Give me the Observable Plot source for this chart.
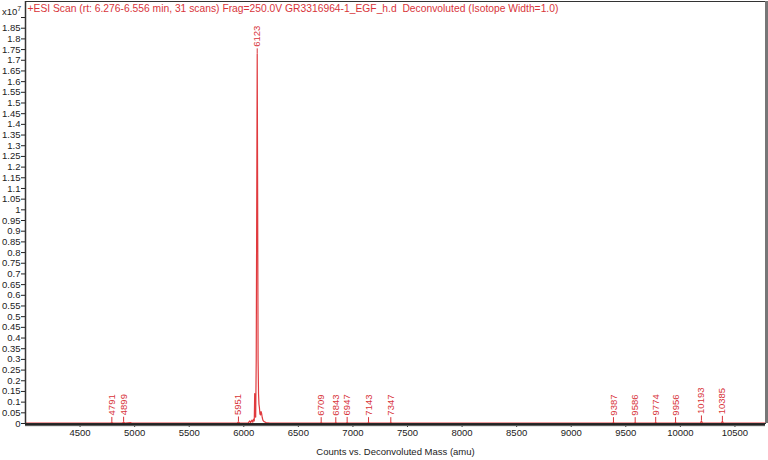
<!DOCTYPE html>
<html><head><meta charset="utf-8">
<script src="https://cdn.jsdelivr.net/npm/d3@7"></script>
<script src="https://cdn.jsdelivr.net/npm/@observablehq/plot@0.6"></script>
<style>html,body{margin:0;padding:0;background:#fff;} #chart svg{display:block;overflow:visible}</style>
</head><body><div id="chart"></div>
<script>
// Deconvoluted spectrum (mass in amu, counts in units of 1e7)
const spectrumMass = [4000,4300,4600,4780,4791,4802,4888,4899,4910,4960,4975,5300,5700,5940,5951,5962,
  6040,6055,6062,6075,6082,6090,6096,6100,6104,6109,6114,6119,6123,6127,6131,6135,6139,6143,6148,6153,6158,6163,6169,6176,6188,6205,6240,
  6700,6709,6718,6834,6843,6852,6938,6947,6956,7134,7143,7152,7338,7347,7356,8000,9000,
  9378,9387,9396,9577,9586,9595,9765,9774,9783,9947,9956,9965,10184,10193,10202,10376,10385,10394,10780];
const spectrumCounts = [0.002,0.002,0.002,0.002,0.005,0.002,0.002,0.006,0.002,0.004,0.002,0.002,0.002,0.002,0.007,0.002,
  0.003,0.012,0.004,0.016,0.006,0.02,0.012,0.14,0.05,0.03,0.3,1.1,1.73,1.05,0.3,0.14,0.09,0.075,0.045,0.04,0.056,0.048,0.028,0.015,0.008,0.004,0.002,
  0.002,0.004,0.002,0.002,0.004,0.002,0.002,0.005,0.002,0.002,0.004,0.002,0.002,0.004,0.002,0.002,0.002,
  0.002,0.004,0.002,0.002,0.004,0.002,0.002,0.005,0.002,0.002,0.004,0.002,0.002,0.012,0.002,0.002,0.01,0.002,0.002];

// Labelled peaks
const peakMasses = [4791,4899,5951,6123,6709,6843,6947,7143,7347,9387,9586,9774,9956,10193,10385];
const peakCounts = [0.005,0.006,0.007,1.73,0.004,0.004,0.005,0.004,0.004,0.004,0.004,0.005,0.004,0.012,0.01];
const peakLabels = ["4791","4899","5951","6123","6709","6843","6947","7143","7347","9387","9586","9774","9956","10193","10385"];

// Axes
const xDomain = [4000, 10780];
const yDomain = [0, 1.975];
const xTicks = [4500,5000,5500,6000,6500,7000,7500,8000,8500,9000,9500,10000,10500];
const yTicks = [0,0.05,0.1,0.15,0.2,0.25,0.3,0.35,0.4,0.45,0.5,0.55,0.6,0.65,0.7,0.75,0.8,0.85,0.9,0.95,1,
  1.05,1.1,1.15,1.2,1.25,1.3,1.35,1.4,1.45,1.5,1.55,1.6,1.65,1.7,1.75,1.8,1.85,1.9];
const yTickLabels = ["0","0.05","0.1","0.15","0.2","0.25","0.3","0.35","0.4","0.45","0.5","0.55","0.6","0.65","0.7","0.75","0.8","0.85","0.9","0.95","1",
  "1.05","1.1","1.15","1.2","1.25","1.3","1.35","1.4","1.45","1.5","1.55","1.6","1.65","1.7","1.75","1.8","1.85",""];

const headerText = "+ESI Scan (rt: 6.276-6.556 min, 31 scans) Frag=250.0V GR3316964-1_EGF_h.d  Deconvoluted (Isotope Width=1.0)";
const xTitle = "Counts vs. Deconvoluted Mass (amu)";

const spectrum = spectrumMass.map((m, i) => ({mass: m, counts: spectrumCounts[i]}));
const peaks = peakMasses.map((m, i) => ({mass: m, counts: peakCounts[i], label: peakLabels[i]}));
const yLabelMap = new Map(yTicks.map((t, i) => [t, yTickLabels[i]]));

const red = "#e03a3e";
const labelRed = "#d8343a";
const font = "'Liberation Sans', Arial, sans-serif";

const plot = Plot.plot({
  width: 768,
  height: 460,
  marginLeft: 25,
  marginRight: 3,
  marginTop: 1,
  marginBottom: 37,
  style: {fontFamily: font, fontSize: "9.5px", color: "#222", background: "#fff"},
  x: {domain: xDomain},
  y: {domain: yDomain},
  marks: [
    Plot.axisX({ticks: xTicks, tickSize: 4, tickPadding: 2, label: null, tickFormat: d => String(d)}),
    Plot.axisY({ticks: yTicks, tickSize: 4, tickPadding: 1, label: null, tickFormat: d => yLabelMap.get(d)}),
    Plot.line(spectrum, {x: "mass", y: "counts", stroke: red, strokeWidth: 1.2}),
    Plot.ruleX(peaks, {x: "mass", y1: "counts", y2: "counts", insetBottom: 5, stroke: labelRed, strokeWidth: 1}),
    Plot.text(peaks, {x: "mass", y: "counts", text: "label", rotate: -90, textAnchor: "start", lineAnchor: "middle", dy: -7, fill: labelRed, fontSize: 9.5}),
    Plot.frame({stroke: "#333", strokeWidth: 1}),
    Plot.ruleX([xDomain[0]], {stroke: "#333", strokeWidth: 1.5}),
    Plot.ruleX([xDomain[1]], {stroke: "#777", strokeWidth: 3, dx: 1}),
    Plot.ruleY([yDomain[0]], {stroke: "#999", strokeWidth: 1.5, dy: 2}),
    Plot.ruleY([yDomain[0]], {stroke: "#222", strokeWidth: 2, dy: 1}),
    Plot.text([headerText], {frameAnchor: "top-left", dx: 2, dy: 7, textAnchor: "start", lineAnchor: "middle", fill: labelRed, fontSize: 10.3}),
    Plot.text([xTitle], {frameAnchor: "bottom", dy: 28, lineAnchor: "middle", fill: "#222", fontSize: 9.5})
  ]
});

// x10^7 multiplier label
const svg = d3.select(plot);
const mult = svg.append("text").attr("x", 2).attr("y", 15).attr("text-anchor", "start")
  .attr("font-family", font).attr("font-size", 9.5).attr("fill", "#222");
mult.append("tspan").text("x10");
mult.append("tspan").attr("dy", -4).attr("font-size", 7).text("7");

document.getElementById("chart").appendChild(plot);
</script>
</body></html>
